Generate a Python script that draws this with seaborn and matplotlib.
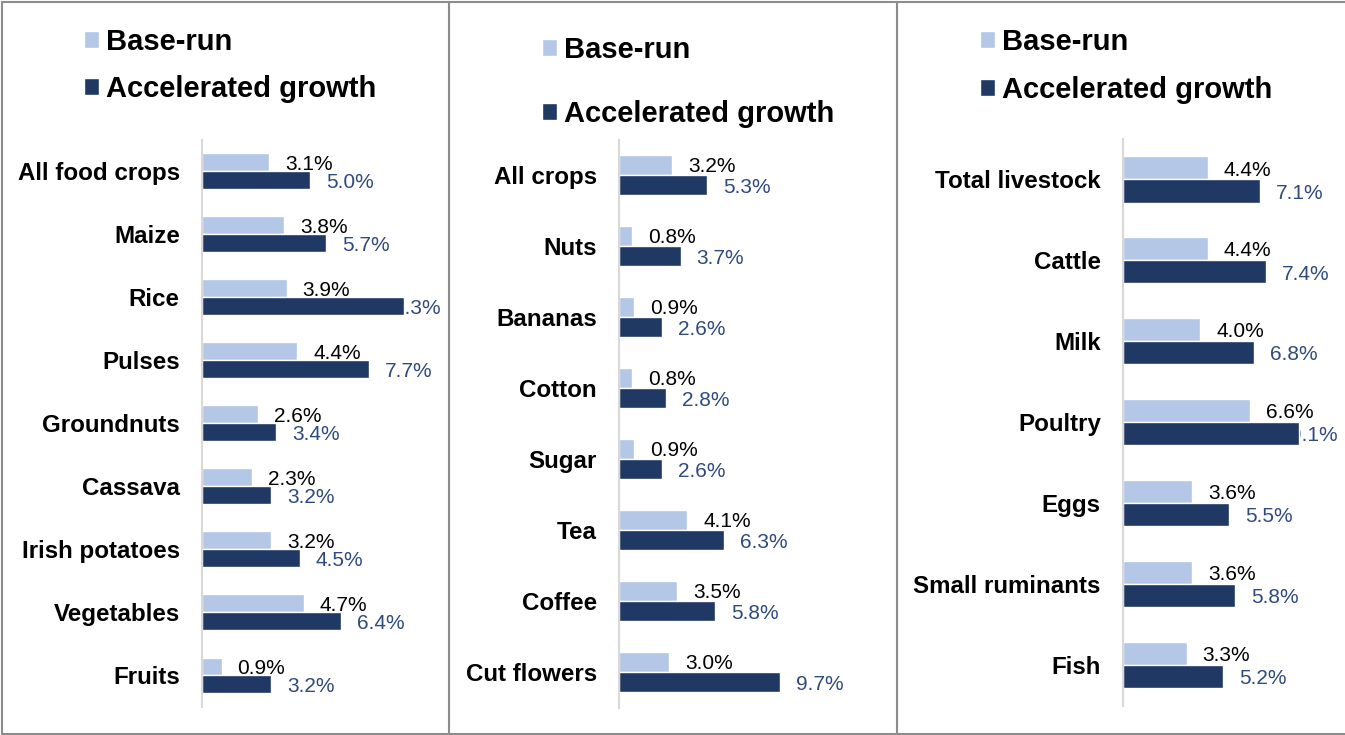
import pandas as pd
import seaborn as sns
import matplotlib.pyplot as plt
from matplotlib.lines import Line2D

series = ["Base-run", "Accelerated growth"]

crops1 = ["All food crops", "Maize", "Rice", "Pulses", "Groundnuts", "Cassava",
          "Irish potatoes", "Vegetables", "Fruits"]
base1 = [3.1, 3.8, 3.9, 4.4, 2.6, 2.3, 3.2, 4.7, 0.9]
accel1 = [5.0, 5.7, 9.3, 7.7, 3.4, 3.2, 4.5, 6.4, 3.2]

crops2 = ["All crops", "Nuts", "Bananas", "Cotton", "Sugar", "Tea", "Coffee", "Cut flowers"]
base2 = [3.2, 0.8, 0.9, 0.8, 0.9, 4.1, 3.5, 3.0]
accel2 = [5.3, 3.7, 2.6, 2.8, 2.6, 6.3, 5.8, 9.7]

livestock = ["Total livestock", "Cattle", "Milk", "Poultry", "Eggs", "Small ruminants", "Fish"]
base3 = [4.4, 4.4, 4.0, 6.6, 3.6, 3.6, 3.3]
accel3 = [7.1, 7.4, 6.8, 9.1, 5.5, 5.8, 5.2]

light = "#B4C7E7"
dark = "#203864"
label_dark = "#2F4A7E"

sns.set_style("white")
plt.rcParams["font.family"] = ["Liberation Sans", "DejaVu Sans"]

W, H = 1345, 735
fig = plt.figure(figsize=(W / 100, H / 100), dpi=100)

# panel: (cats, base, accel, left px, right px, top px, bottom px, xmax, legend anchor, labelspacing)
panels = [
    (crops1, base1, accel1, 202, 440, 139.5, 707, 10.97, (84, 65.5), 0.66),
    (crops2, base2, accel2, 619, 890, 139.5, 707.5, 16.3, (542, 82), 1.22),
    (livestock, base3, accel3, 1123, 1337, 139, 705.5, 11.09, (980, 65.75), 0.68),
]

for cats, b, a, l, r, t, btm, xmax, leg_xy, lspace in panels:
    df = pd.DataFrame({
        "category": cats * 2,
        "value": b + a,
        "series": [series[0]] * len(cats) + [series[1]] * len(cats),
    })
    ax = fig.add_axes([l / W, 1 - btm / H, (r - l) / W, (btm - t) / H])
    sns.barplot(data=df, x="value", y="category", hue="series", hue_order=series,
                palette=[light, dark], orient="h", width=0.57, ax=ax, saturation=1)
    n = len(cats)
    ax.set_xlim(0, xmax)
    ax.set_ylim(n - 0.5, -0.5)
    ax.set_xlabel("")
    ax.set_ylabel("")
    ax.set_xticks([])
    for s in ["top", "right", "bottom"]:
        ax.spines[s].set_visible(False)
    ax.spines["left"].set_color("#D9D9D9")
    ax.spines["left"].set_linewidth(1.5)
    ax.tick_params(axis="y", length=0, pad=16)
    for tl in ax.get_yticklabels():
        tl.set_fontsize(17.4)
        tl.set_fontweight("bold")
        tl.set_color("black")

    handles, labels = ax.get_legend_handles_labels()
    ax.get_legend().remove()

    # value labels, kept inside the plot area like the original
    upp = xmax / (r - l)
    off = 16 * upp
    lw = 47 * upp
    bw = 0.57 / 2
    for i in range(n):
        for k, (vals, col) in enumerate([(b, "black"), (a, label_dark)]):
            v = vals[i]
            x = min(v + off, xmax - lw)
            y = i + (k - 0.5) * bw
            ax.annotate(f"{v:.1f}%", (x, y), xytext=(0, -1.5), textcoords="offset points",
                        ha="left", va="center", fontsize=15, color=col, zorder=0.5)

    fig.legend(handles, labels, loc="center left",
               bbox_to_anchor=(leg_xy[0] / W, 1 - leg_xy[1] / H),
               frameon=False, borderpad=0, borderaxespad=0,
               handlelength=0.52, handleheight=0.52, handletextpad=0.25,
               labelspacing=lspace, labelcolor="black",
               prop={"size": 21, "weight": "bold"})

# panel frames
gray = "#8C8C8C"
for x0, y0, x1, y1 in [(2, 2, 1345, 2), (2, 733.5, 1345, 733.5), (2, 2, 2, 733.5),
                       (449, 2, 449, 733.5), (897, 2, 897, 733.5)]:
    fig.add_artist(Line2D([x0 / W, x1 / W], [1 - y0 / H, 1 - y1 / H],
                          color=gray, linewidth=1.5))

plt.savefig("out.png", dpi=100)
